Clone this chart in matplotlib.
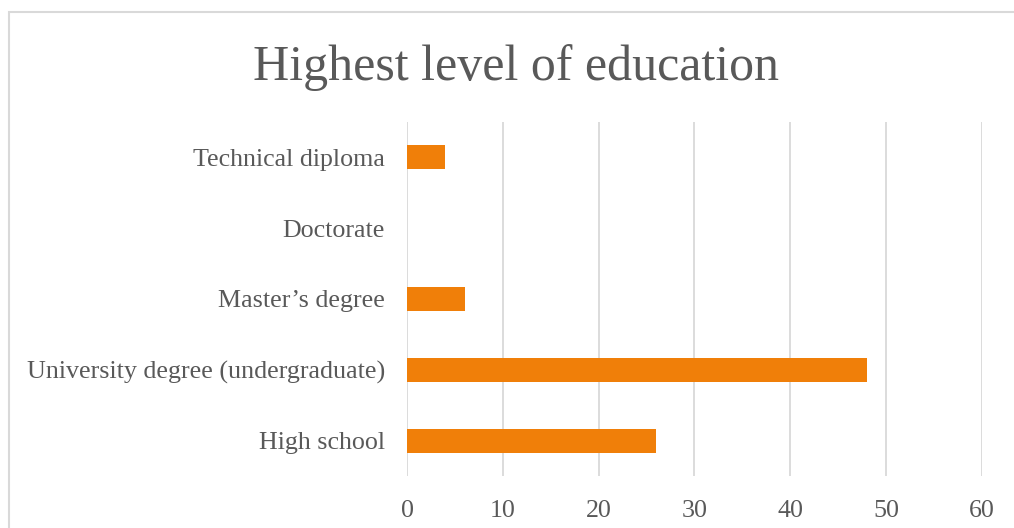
import matplotlib.pyplot as plt
from matplotlib.patches import Rectangle

categories = ['High school', 'University degree (undergraduate)', "Master\u2019s degree",
              'Doctorate', 'Technical diploma']
counts = [26, 48, 6, 0, 4]
xticks = [0, 10, 20, 30, 40, 50, 60]

text_col = '#595959'
bar_col = '#F07F09'

plt.rcParams['font.family'] = ['Liberation Serif', 'DejaVu Serif']

fig = plt.figure(figsize=(10.14, 5.28), dpi=100)
ax = fig.add_axes([0.4014, 0.0985, 0.567, 0.6705])

ax.barh(range(len(categories)), counts, height=0.34, color=bar_col, zorder=3)
ax.set_xlim(0, 60)
ax.set_ylim(-0.5, len(categories) - 0.5)
ax.set_xticks(xticks)
ax.set_yticks(range(len(categories)))
ax.set_yticklabels(categories)
ax.grid(axis='x', color='#D9D9D9', linewidth=1.3, zorder=0)
for s in ax.spines.values():
    s.set_visible(False)
ax.tick_params(length=0, labelsize=18.7, colors=text_col)
ax.tick_params(axis='y', pad=16)
ax.tick_params(axis='x', pad=17)

fig.text(0.509, 0.872, 'Highest level of education', ha='center', va='center',
         fontsize=36, color=text_col)

# chart frame, running off the right and bottom edges
fig.patches.append(Rectangle((9 / 1014, -0.1), 1.2, 1 - 12 / 528 + 0.1,
                             transform=fig.transFigure, fill=False,
                             edgecolor='#D9D9D9', linewidth=1.5))

fig.savefig('out.png', dpi=100)
